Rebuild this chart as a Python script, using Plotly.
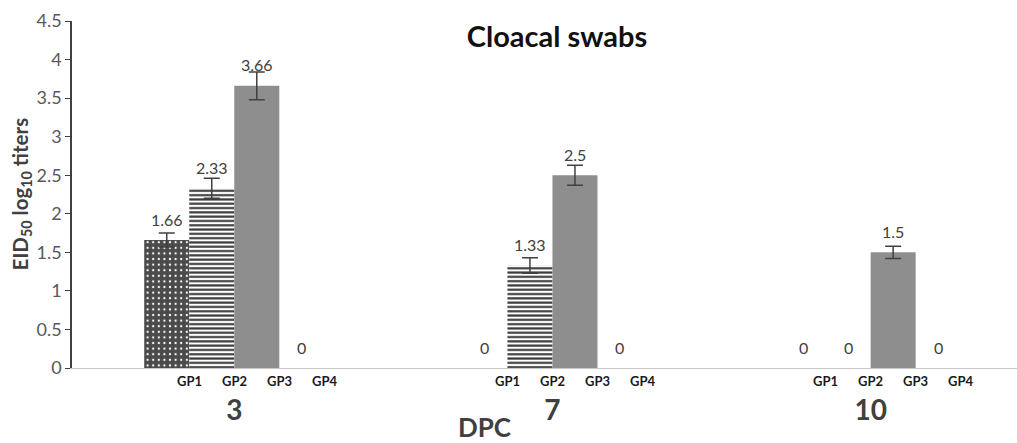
import plotly.graph_objects as go

dpc_labels = ["3", "7", "10"]
groups = ["GP1", "GP2", "GP3", "GP4"]
gp1 = [1.66, 0, 0]
gp2 = [2.33, 1.33, 0]
gp3 = [3.66, 2.5, 1.5]
gp4 = [0, 0, 0]
gp1_err = [0.09, 0, 0]
gp2_err = [0.13, 0.1, 0]
gp3_err = [0.18, 0.13, 0.08]
gp4_err = [0, 0, 0]

series = [gp1, gp2, gp3, gp4]
errors = [gp1_err, gp2_err, gp3_err, gp4_err]

FONT = "Lato"
BARGAP = 0.434
BW = (1 - BARGAP) / 4
xpos = list(range(len(dpc_labels)))

styles = [
    dict(color="#4a4a4a", pattern=dict(shape=".", bgcolor="#4a4a4a", fgcolor="#ffffff",
                                         size=5.6, solidity=0.12, fillmode="replace")),
    dict(color="#ffffff", pattern=dict(shape="-", bgcolor="#ffffff", fgcolor="#3a3a3a",
                                         size=4.3, solidity=0.5, fillmode="replace")),
    dict(color="#8e8e8e"),
    dict(color="#bfbfbf"),
]

fig = go.Figure()
for name, vals, err, st in zip(groups, series, errors, styles):
    # zero-height bars are left empty so that no stray error-bar caps appear
    yvals = [v if v else None for v in vals]
    fig.add_trace(go.Bar(
        x=xpos, y=yvals, name=name,
        marker=dict(line=dict(width=0), **st),
        error_y=dict(type="data", array=err, visible=True, color="#404040",
                     thickness=1.5, width=8),
        showlegend=False,
    ))

annotations = []
for i, (name, vals) in enumerate(zip(groups, series)):
    for g, v in zip(xpos, vals):
        xc = g + (i - 1.5) * BW
        annotations.append(dict(x=xc, y=v, xref="x", yref="y", text=f"{v:g}",
                                showarrow=False, yshift=21, yanchor="middle",
                                font=dict(family=FONT, size=16, color="#404040")))
        annotations.append(dict(x=xc + BW / 2, y=0, xref="x", yref="y", text=name,
                                showarrow=False, yshift=-13, yanchor="middle",
                                font=dict(family=FONT, size=13, color="#1a1a1a",
                                          weight="bold")))

# x-axis title (off-centre in the reference)
annotations.append(dict(text="DPC", showarrow=False,
                        xref="x domain", yref="y domain",
                        x=(484 - 72) / 945, y=-(427 - 368) / 347,
                        xanchor="center", yanchor="middle",
                        font=dict(family=FONT, size=26, color="#404040", weight="bold")))
# y-axis title
annotations.append(dict(text="EID<sub>50</sub> log<sub>10</sub> titers", showarrow=False,
                        xref="x domain", yref="y domain",
                        x=(21 - 72) / 945, y=0.5, textangle=-90,
                        xanchor="center", yanchor="middle",
                        font=dict(family=FONT, size=20.5, color="#404040", weight="bold")))

fig.update_layout(
    width=1017, height=443,
    margin=dict(l=72, r=0, t=21, b=75, pad=0),
    paper_bgcolor="white", plot_bgcolor="white",
    barmode="group", bargap=BARGAP, bargroupgap=0,
    title=dict(text="Cloacal swabs", x=(557 - 72) / 945, xref="paper",
               y=1 - 37 / 443, yref="container", xanchor="center", yanchor="middle",
               font=dict(family=FONT, size=29, color="#111111", weight="bold")),
    annotations=annotations,
)
fig.update_xaxes(
    range=[-0.51, 2.46], tickvals=xpos, ticktext=dpc_labels,
    showline=True, linecolor="#c8c8c8", linewidth=1.2,
    ticks="outside", ticklen=17, tickcolor="rgba(0,0,0,0)",
    tickfont=dict(family=FONT, size=28, color="#404040", weight="bold"),
    showgrid=False, zeroline=False, fixedrange=True,
)
fig.update_yaxes(
    range=[0, 4.5], dtick=0.5, tick0=0,
    showline=True, linecolor="#404040", linewidth=1.5,
    ticks="outside", ticklen=5, tickcolor="#404040", tickwidth=1.2,
    tickfont=dict(family=FONT, size=18, color="#595959"),
    showgrid=False, zeroline=False,
)

fig.write_html("out.html")
